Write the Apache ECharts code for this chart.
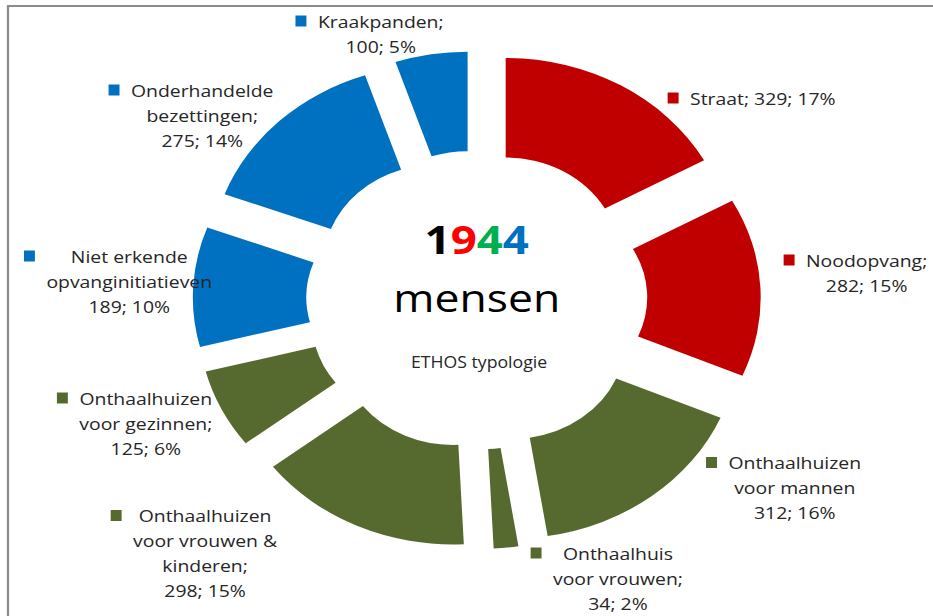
<!DOCTYPE html>
<html><head><meta charset="utf-8">
<script src="https://cdn.jsdelivr.net/npm/echarts@6/dist/echarts.min.js"></script>
<style>
html,body{margin:0;padding:0;background:#fff;overflow:hidden;}
#wrap{width:933px;height:616px;overflow:hidden;position:relative;background:#fff;}
#chart{width:818px;height:616px;transform:scaleX(1.1406);transform-origin:0 0;}
</style></head><body>
<div id="wrap"><div id="chart"></div></div>
<script>
// ---- data ----
const categories = ['Straat', 'Noodopvang', 'Onthaalhuizen voor mannen', 'Onthaalhuis voor vrouwen',
  'Onthaalhuizen voor vrouwen & kinderen', 'Onthaalhuizen voor gezinnen',
  'Niet erkende opvanginitiatieven', 'Onderhandelde bezettingen', 'Kraakpanden'];
const values = [329, 282, 312, 34, 298, 125, 189, 275, 100];
const labelLines = [
  ['Straat; {v}'],
  ['Noodopvang;', '{v}'],
  ['Onthaalhuizen', 'voor mannen', '{v}'],
  ['Onthaalhuis', 'voor vrouwen;', '{v}'],
  ['Onthaalhuizen', 'voor vrouwen &', 'kinderen;', '{v}'],
  ['Onthaalhuizen', 'voor gezinnen;', '{v}'],
  ['Niet erkende', 'opvanginitiatieven', '{v}'],
  ['Onderhandelde', 'bezettingen;', '{v}'],
  ['Kraakpanden;', '{v}']
];
const centerWord = 'mensen';
const subtitleText = 'ETHOS typologie';

// ---- styles / layout ----
const RED = '#C00000', GREEN = '#566A30', BLUE = '#0070C0';
const colors = [RED, RED, GREEN, GREEN, GREEN, GREEN, BLUE, BLUE, BLUE];
const digitColors = ['#000000', '#FF0000', '#00B050', '#0070C0'];
const labelPos = [[659, 98], [750, 272.5], [687, 487.5], [532, 578], [170, 553], [118, 423], [103.5, 281], [167.5, 115], [324, 33.5]];
const FONT = '"Open Sans", "Noto Sans", sans-serif';
const TEXT_COLOR = '#262626';

const total = values.reduce((a, b) => a + b, 0);
const totalDigits = String(total).split('');

const rich = {
  g: {width: 10, height: 11, align: 'left'},
  p: {width: 19.6, height: 11, align: 'left'},
  t: {align: 'center', fontFamily: FONT, fontSize: 17, color: TEXT_COLOR, lineHeight: 25}
};
colors.forEach((c, i) => { rich['m' + i] = {width: 9.6, height: 11, backgroundColor: c, align: 'left'}; });

const chart = echarts.init(document.getElementById('chart'), null, {renderer: 'svg'});

const digitRich = {};
totalDigits.forEach((d, i) => {
  digitRich['d' + i] = {fill: digitColors[i % digitColors.length], fontSize: 40, fontWeight: 'bold', fontFamily: FONT};
});

const pieBase = {
  type: 'pie',
  center: [418, 300],
  radius: [99.5, 199],
  startAngle: 90,
  clockwise: true,
  silent: true,
  emphasis: {disabled: true, scale: false},
  percentPrecision: 0,
  avoidLabelOverlap: false,
  labelLine: {show: false}
};

chart.setOption({
  animation: false,
  backgroundColor: '#ffffff',
  graphic: [
    {type: 'rect', shape: {x: 7, y: 6, width: 1000, height: 1000}, style: {fill: 'none', stroke: '#8c8c8c', lineWidth: 2}, silent: true},
    {type: 'text', x: 418, y: 239, silent: true,
      style: {text: totalDigits.map((d, i) => '{d' + i + '|' + d + '}').join(''), rich: digitRich,
        align: 'center', verticalAlign: 'middle', textAlign: 'center', textVerticalAlign: 'middle'}},
    {type: 'text', x: 418, y: 297, silent: true,
      style: {text: centerWord, fill: '#000', fontSize: 39, fontFamily: FONT,
        align: 'center', verticalAlign: 'middle', textAlign: 'center', textVerticalAlign: 'middle'}},
    {type: 'text', x: 420, y: 362, silent: true,
      style: {text: subtitleText, fill: TEXT_COLOR, fontSize: 15.5, fontFamily: FONT,
        align: 'center', verticalAlign: 'middle', textAlign: 'center', textVerticalAlign: 'middle'}}
  ],
  series: [
    Object.assign({}, pieBase, {
      name: 'ETHOS',
      selectedMode: 'multiple',
      selectedOffset: 50,
      data: values.map((v, i) => ({name: categories[i], value: v, selected: true, itemStyle: {color: colors[i]}})),
      label: {show: false}
    }),
    Object.assign({}, pieBase, {
      name: 'labels',
      selectedMode: false,
      z: 3,
      itemStyle: {color: 'rgba(0,0,0,0)'},
      data: values.map((v, i) => ({name: categories[i], value: v})),
      label: {
        show: true,
        position: 'outside',
        fontFamily: FONT, fontSize: 17, color: TEXT_COLOR, lineHeight: 25,
        formatter: function (p) {
          const v = p.value + '; ' + p.percent + '%';
          return labelLines[p.dataIndex].map((line, j) => {
            const txt = line.replace('{v}', v);
            return (j === 0 ? '{m' + p.dataIndex + '|}{g|}' : '{p|}') + '{t|' + txt + '}';
          }).join('\n');
        },
        rich: rich
      },
      labelLayout: function (p) {
        const pos = labelPos[p.dataIndex];
        return {x: pos[0], y: pos[1], align: 'center', verticalAlign: 'middle'};
      }
    })
  ]
});
</script>
</body></html>
